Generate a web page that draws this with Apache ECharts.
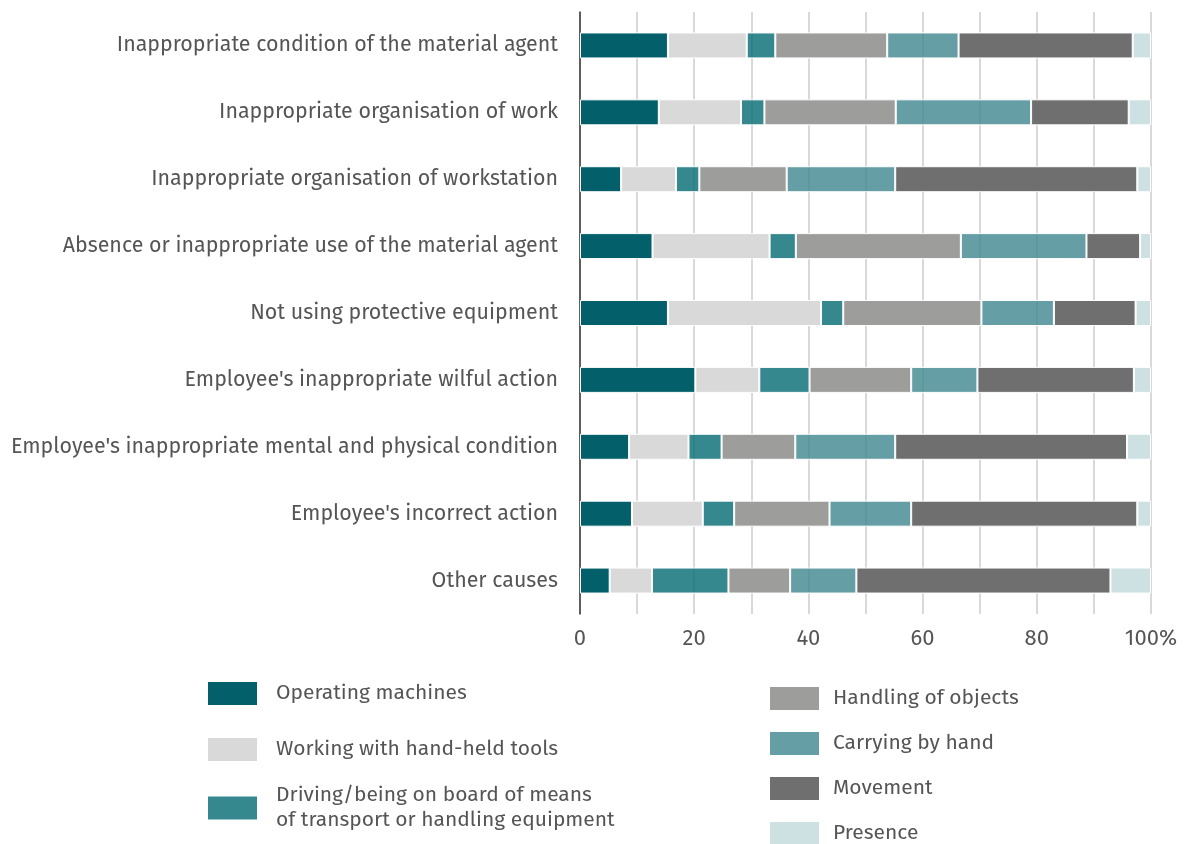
<!DOCTYPE html>
<html>
<head>
<meta charset="utf-8">
<script src="https://cdn.jsdelivr.net/npm/echarts@6/dist/echarts.min.js"></script>
<style>
  html, body { margin: 0; padding: 0; background: #fff; }
  #chart { width: 1187px; height: 844px; }
</style>
</head>
<body>
<div id="chart"></div>
<script>
// Causes (top to bottom)
const causes = [
  "Inappropriate condition of the material agent",
  "Inappropriate organisation of work",
  "Inappropriate organisation of workstation",
  "Absence or inappropriate use of the material agent",
  "Not using protective equipment",
  "Employee's inappropriate wilful action",
  "Employee's inappropriate mental and physical condition",
  "Employee's incorrect action",
  "Other causes"
];

// Share (%) of each activity, one value per cause
const operatingMachines = [15.4, 13.8, 7.2, 12.7, 15.4, 20.2, 8.6, 9.1, 5.2];
const handHeldTools     = [13.8, 14.4, 9.6, 20.5, 26.8, 11.2, 10.4, 12.4, 7.4];
const drivingTransport  = [5.0, 4.1, 4.1, 4.6, 3.9, 8.8, 5.8, 5.5, 13.4];
const handlingObjects   = [19.6, 23.0, 15.3, 28.9, 24.2, 17.8, 12.9, 16.7, 10.8];
const carryingByHand    = [12.5, 23.7, 19.0, 22.0, 12.7, 11.6, 17.5, 14.3, 11.6];
const movement          = [30.5, 17.1, 42.4, 9.4, 14.3, 27.4, 40.6, 39.6, 44.5];
const presence          = [3.2, 3.9, 2.4, 1.9, 2.7, 3.0, 4.2, 2.4, 7.1];

const xTickLabels = [0, 20, 40, 60, 80, 100];

const seriesDefs = [
  { name: "Operating machines", data: operatingMachines, color: "#03606A" },
  { name: "Working with hand-held tools", data: handHeldTools, color: "#D9D9D9" },
  { name: "Driving/being on board of means of transport or handling equipment", data: drivingTransport, color: "rgba(3,106,114,0.8)" },
  { name: "Handling of objects", data: handlingObjects, color: "#9D9D9B" },
  { name: "Carrying by hand", data: carryingByHand, color: "rgba(62,134,143,0.8)" },
  { name: "Movement", data: movement, color: "#6F6F6F" },
  { name: "Presence", data: presence, color: "#CDE0E2" }
];

const FONT = "'Fira Sans', 'Noto Sans', sans-serif";
const TEXT = "#555555";

// legend slots: [left, top]
const legendPos = [
  [206, 680], [206, 736], [206, 783],
  [768, 685], [768, 730], [768, 775], [768, 820]
];

const legends = seriesDefs.map((s, i) => ({
  data: [s.name],
  left: legendPos[i][0],
  top: legendPos[i][1],
  padding: 0,
  orient: "vertical",
  itemWidth: 51,
  itemHeight: 25,
  icon: "rect",
  selectedMode: false,
  formatter: name => name.startsWith("Driving")
    ? "Driving/being on board of means\nof transport or handling equipment"
    : name,
  textStyle: {
    fontFamily: FONT,
    fontSize: 21,
    color: TEXT,
    lineHeight: 25,
    padding: [0, 0, 0, i < 3 ? 13 : 8]
  }
}));

const chart = echarts.init(document.getElementById("chart"), null, { renderer: "canvas" });

chart.setOption({
  animation: false,
  textStyle: { fontFamily: FONT },
  grid: { left: 580, right: 36, top: 12, height: 602, containLabel: false },
  legend: legends,
  xAxis: {
    type: "value",
    min: 0,
    max: 100,
    interval: 10,
    axisLine: { show: false },
    axisTick: { show: false },
    splitLine: { show: true, lineStyle: { color: "#D9D9D9", width: 2 } },
    axisLabel: {
      fontFamily: FONT,
      fontSize: 22,
      color: TEXT,
      margin: 14,
      formatter: v => xTickLabels.includes(v) ? (v === 100 ? v + "%" : String(v)) : ""
    }
  },
  yAxis: {
    type: "category",
    data: causes,
    inverse: true,
    axisLine: { show: true, lineStyle: { color: "#333333", width: 1.5 } },
    axisTick: { show: false },
    axisLabel: { fontFamily: FONT, fontSize: 21.4, color: TEXT, margin: 22 }
  },
  series: seriesDefs.map(s => ({
    name: s.name,
    type: "bar",
    stack: "total",
    barWidth: 26,
    data: s.data,
    itemStyle: { color: s.color, borderColor: "#ffffff", borderWidth: 1 }
  }))
});
</script>
</body>
</html>
